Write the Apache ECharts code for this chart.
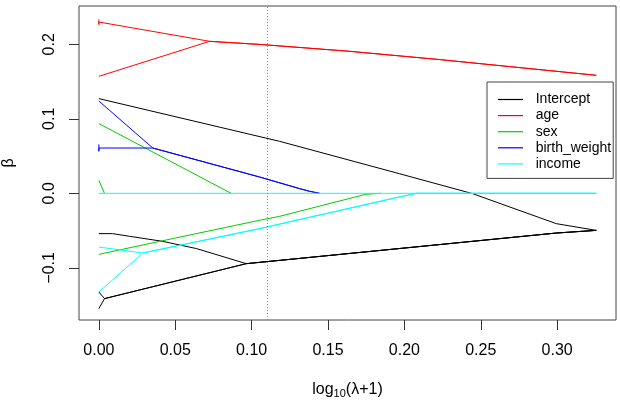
<!DOCTYPE html>
<html>
<head>
<meta charset="utf-8">
<script src="https://cdn.jsdelivr.net/npm/echarts@6/dist/echarts.min.js"></script>
<style>
  html, body { margin: 0; padding: 0; background: #fff; }
  #chart { width: 620px; height: 400px; }
</style>
</head>
<body>
<div id="chart"></div>
<script>
// data: [log10(lambda+1), beta]
const interceptA = [[0, 0.1271], [0.1183, 0.0698], [0.1968, 0.0263], [0.2446, -0.0004], [0.2994, -0.0407], [0.3256, -0.0497]];
const interceptB = [[0, -0.1548], [0.0037, -0.1413], [0.0965, -0.0944], [0.2994, -0.0533], [0.3256, -0.0497]];
const interceptC = [[0, -0.1325], [0.0037, -0.1413], [0.0965, -0.0944], [0.2994, -0.0533], [0.3256, -0.0497]];
const interceptD = [[0, -0.0541], [0.0090, -0.0541], [0.0201, -0.0577], [0.0417, -0.0644], [0.0640, -0.0742], [0.0965, -0.0944], [0.2994, -0.0533], [0.3256, -0.0497]];

const ageA = [[0, 0.2335], [0, 0.2265], [0, 0.2299], [0.0725, 0.2040], [0.1070, 0.1996], [0.1641, 0.1906], [0.2230, 0.1795], [0.3256, 0.1584]];
const ageB = [[0, 0.1570], [0.0725, 0.2040], [0.1070, 0.1996], [0.1641, 0.1906], [0.2230, 0.1795], [0.3256, 0.1584]];

// sex and birth_weight stay at 0 after these points (under the income line)
const sexA = [[0, 0.0936], [0.0866, 0]];
const sexB = [[0, 0.0174], [0.0037, 0]];
const sexC = [[0, -0.0819], [0.05, -0.0600], [0.1052, -0.0362], [0.1183, -0.0309], [0.1747, -0.0013], [0.1845, 0]];

const bwA = [[0, 0.1239], [0.0353, 0.0608], [0.1052, 0.0219], [0.1314, 0.0063], [0.1380, 0.0027], [0.1445, 0]];
const bwB = [[0, 0.0658], [0, 0.0564], [0, 0.0608], [0.0353, 0.0608], [0.1052, 0.0219], [0.1314, 0.0063], [0.1380, 0.0027], [0.1445, 0]];

const incomeA = [[0, 0], [0.3256, 0]];
const incomeB = [[0, -0.0721], [0.0288, -0.0801], [0.1052, -0.0474], [0.1947, -0.0058], [0.2078, 0], [0.3256, 0]];
const incomeC = [[0, -0.1325], [0.0288, -0.0801], [0.1052, -0.0474], [0.1947, -0.0058], [0.2078, 0], [0.3256, 0]];

const cvX = 0.107;
const xTicks = [0, 0.05, 0.1, 0.15, 0.2, 0.25, 0.3];
const yTicks = [-0.1, 0, 0.1, 0.2];
const names = ['Intercept', 'age', 'sex', 'birth_weight', 'income'];

const font = 'Liberation Sans, Arial, sans-serif';

function path(name, color, data) {
  return {
    type: 'line',
    name: name,
    data: data,
    symbol: 'none',
    silent: true,
    lineStyle: { color: color, width: 1 },
    itemStyle: { color: color }
  };
}

const series = [
  path('Intercept', '#000000', interceptA),
  path('Intercept', '#000000', interceptB),
  path('Intercept', '#000000', interceptC),
  path('Intercept', '#000000', interceptD),
  path('age', '#FF0000', ageA),
  path('age', '#FF0000', ageB),
  path('sex', '#00CD00', sexA),
  path('sex', '#00CD00', sexB),
  path('sex', '#00CD00', sexC),
  path('birth_weight', '#0000FF', bwA),
  path('birth_weight', '#0000FF', bwB),
  path('income', '#00FFFF', incomeA),
  path('income', '#00FFFF', incomeB),
  path('income', '#00FFFF', incomeC)
];

series[0].markLine = {
  silent: true,
  symbol: 'none',
  label: { show: false },
  lineStyle: { color: '#888', type: [1, 2], width: 1 },
  data: [{ xAxis: cvX }]
};

const chart = echarts.init(document.getElementById('chart'));
chart.setOption({
  animation: false,
  textStyle: { fontFamily: font },
  grid: {
    left: 79,
    top: 6,
    right: 4,
    bottom: 80,
    outerBoundsMode: 'none',
    show: true,
    borderColor: '#444',
    borderWidth: 1
  },
  legend: {
    data: names,
    orient: 'vertical',
    left: 487,
    top: 82,
    borderColor: '#444',
    borderWidth: 1,
    borderRadius: 0,
    padding: [10.5, 2, 7.5, 11],
    icon: 'rect',
    itemWidth: 25,
    itemHeight: 1.2,
    itemGap: 2.1,
    selectedMode: false,
    textStyle: { fontSize: 14, color: '#000', lineHeight: 14, padding: [0, 0, 0, 7.7], fontFamily: font }
  },
  xAxis: {
    type: 'value',
    min: -0.013,
    max: 0.3385,
    axisLine: { show: false, onZero: false },
    splitLine: { show: false },
    axisTick: { show: true, inside: false, length: 10, customValues: xTicks, lineStyle: { color: '#333' } },
    axisLabel: {
      customValues: xTicks,
      formatter: (v) => v.toFixed(2),
      fontSize: 16,
      color: '#000',
      margin: 23
    },
    name: '{a|log}{s|10}{a|(λ+1)}',
    nameLocation: 'middle',
    nameGap: 60,
    nameTextStyle: {
      rich: {
        a: { fontSize: 16, color: '#000', fontFamily: font, lineHeight: 19 },
        s: { fontSize: 11, color: '#000', fontFamily: font, verticalAlign: 'bottom', lineHeight: 13 }
      }
    }
  },
  yAxis: {
    type: 'value',
    min: -0.170,
    max: 0.2514,
    axisLine: { show: false, onZero: false },
    splitLine: { show: false },
    axisTick: { show: true, inside: false, length: 10, customValues: yTicks, lineStyle: { color: '#333' } },
    axisLabel: {
      customValues: yTicks,
      rotate: 90,
      formatter: (v) => (v < 0 ? '\u2212' : '') + Math.abs(v).toFixed(1),
      fontSize: 16,
      color: '#000',
      margin: 21
    },
    name: 'β',
    nameLocation: 'middle',
    nameRotate: 90,
    nameGap: 62,
    nameTextStyle: { fontSize: 16, color: '#000', fontFamily: font }
  },
  series: series
});
</script>
</body>
</html>
